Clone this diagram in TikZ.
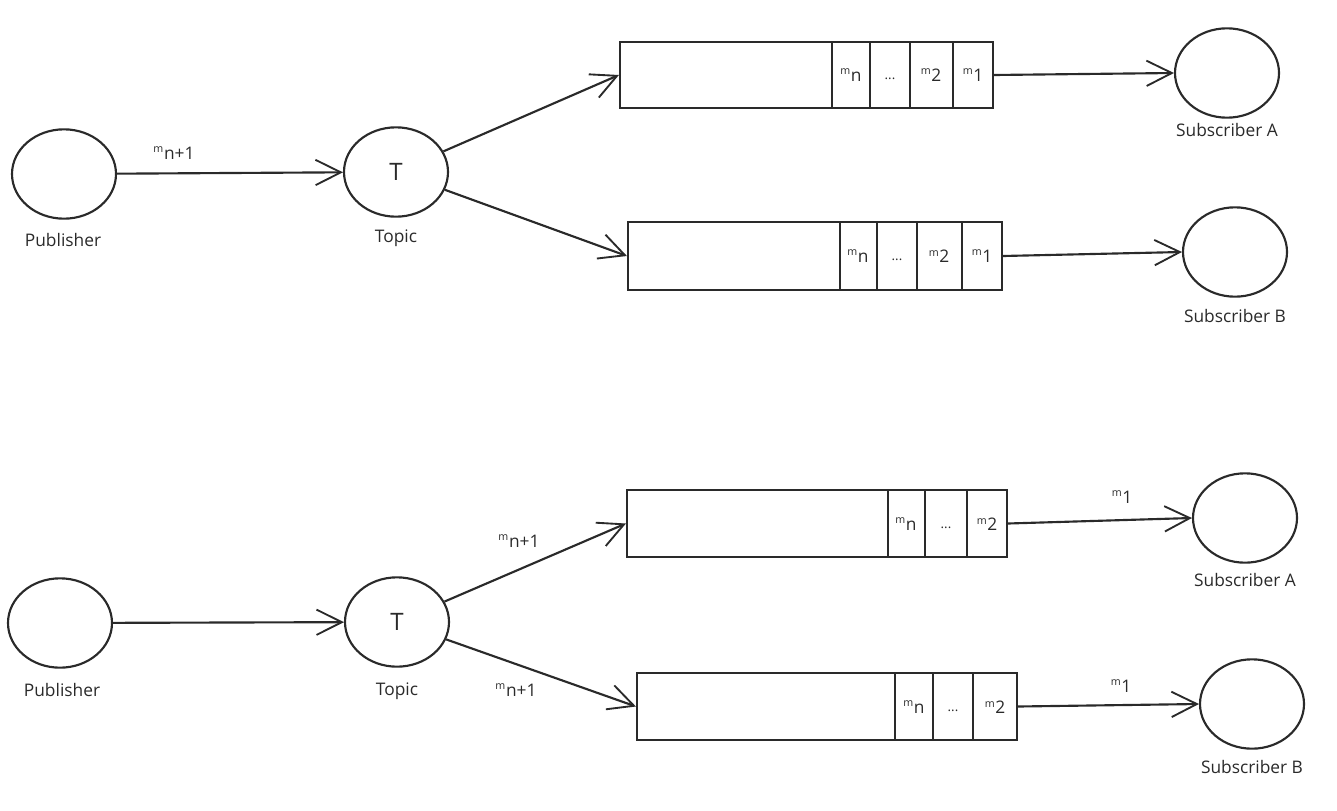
\documentclass[tikz,border=0pt]{standalone}
\usepackage{fontspec}
\setmainfont{Open Sans}
\usetikzlibrary{arrows.meta,shapes.geometric,fit}
\definecolor{ink}{HTML}{2A2A2A}
\newcommand{\mlab}[1]{{\fontsize{8}{8}\selectfont\raisebox{1.1ex}{m}}\hspace{0.5pt}{\fontsize{13}{13}\selectfont #1}}
\tikzset{
  ink/.style={draw=ink, line width=1.6pt},
  actor/.style={ink, ellipse, inner sep=0pt, minimum width=78pt, minimum height=67pt},
  queuebox/.style={ink, rectangle, inner sep=0pt},
  cellline/.style={ink},
  lbl/.style={text=ink, font=\fontsize{13}{14}\selectfont, inner sep=1pt},
  cell/.style={text=ink, inner sep=0pt},
  big/.style={text=ink, font=\fontsize{18}{18}\selectfont},
  flow/.style={ink, -{Straight Barb[length=19pt,width=19pt,line width=1.4pt]}}
}
\begin{document}
\begin{tikzpicture}[x=0.75pt,y=-0.75pt]
\useasboundingbox (0,0) rectangle (1337,810);

% ---------- top scenario ----------
\node[actor] (pub1) at (64,174) {};
\node[lbl] (pub1l) at (63,240) {Publisher};
\node[actor] (top1) at (396,172) {};
\node[big] (top1t) at (396,172) {T};
\node[lbl] (top1l) at (396,238) {Topic};

\coordinate (qA1a) at (620,42); \coordinate (qA1b) at (993,108);
\node[queuebox, fit=(qA1a)(qA1b)] (qA1) {};
\draw[cellline] (832,42) -- (832,108) (870,42) -- (870,108) (910,42) -- (910,108) (953,42) -- (953,108);
\node[cell] (qA1c1) at (851,75) {\mlab{n}};
\node[cell] (qA1c2) at (890,79) {\fontsize{10}{10}\selectfont ...};
\node[cell] (qA1c3) at (931,75) {\mlab{2}};
\node[cell] (qA1c4) at (973,75) {\mlab{1}};

\coordinate (qB1a) at (628,222); \coordinate (qB1b) at (1002,290);
\node[queuebox, fit=(qB1a)(qB1b)] (qB1) {};
\draw[cellline] (840,222) -- (840,290) (877,222) -- (877,290) (917,222) -- (917,290) (962,222) -- (962,290);
\node[cell] (qB1c1) at (858,256) {\mlab{n}};
\node[cell] (qB1c2) at (897,260) {\fontsize{10}{10}\selectfont ...};
\node[cell] (qB1c3) at (939,256) {\mlab{2}};
\node[cell] (qB1c4) at (982,256) {\mlab{1}};

\node[actor] (subA1) at (1227,73) {};
\node[lbl] (subA1l) at (1227,130) {Subscriber A};
\node[actor] (subB1) at (1235,252) {};
\node[lbl] (subB1l) at (1235,316) {Subscriber B};

\draw[flow] (pub1) -- (top1);
\node[cell] (m1) at (174,153) {\mlab{n+1}};
\draw[flow] (top1) -- (qA1.west);
\draw[flow] (top1) -- (qB1.west);
\draw[flow] (qA1.east) -- (subA1.west);
\draw[flow] (qB1.east) -- (subB1.west);

% ---------- bottom scenario ----------
\node[actor] (pub2) at (60,623) {};
\node[lbl] (pub2l) at (62,690) {Publisher};
\node[actor] (top2) at (397,622) {};
\node[big] (top2t) at (397,622) {T};
\node[lbl] (top2l) at (397,691) {Topic};

\coordinate (qA2a) at (627,490); \coordinate (qA2b) at (1007,557);
\node[queuebox, fit=(qA2a)(qA2b)] (qA2) {};
\draw[cellline] (888,490) -- (888,557) (925,490) -- (925,557) (967,490) -- (967,557);
\node[cell] (qA2c1) at (906,524) {\mlab{n}};
\node[cell] (qA2c2) at (946,528) {\fontsize{10}{10}\selectfont ...};
\node[cell] (qA2c3) at (987,524) {\mlab{2}};

\coordinate (qB2a) at (637,673); \coordinate (qB2b) at (1017,740);
\node[queuebox, fit=(qB2a)(qB2b)] (qB2) {};
\draw[cellline] (895,673) -- (895,740) (933,673) -- (933,740) (973,673) -- (973,740);
\node[cell] (qB2c1) at (914,707) {\mlab{n}};
\node[cell] (qB2c2) at (953,711) {\fontsize{10}{10}\selectfont ...};
\node[cell] (qB2c3) at (995,707) {\mlab{2}};

\node[actor] (subA2) at (1245,518) {};
\node[lbl] (subA2l) at (1245,580) {Subscriber A};
\node[actor] (subB2) at (1252,704) {};
\node[lbl] (subB2l) at (1252,767) {Subscriber B};

\draw[flow] (pub2) -- (top2);
\draw[flow] (top2) -- (qA2.west);
\draw[flow] (top2) -- (qB2.west);
\draw[flow] (qA2.east) -- (subA2.west);
\draw[flow] (qB2.east) -- (subB2.west);

\node[cell] (m2) at (519,541) {\mlab{n+1}};
\node[cell] (m3) at (516,690) {\mlab{n+1}};
\node[cell] (m4) at (1122,497) {\mlab{1}};
\node[cell] (m5) at (1121,686) {\mlab{1}};
\end{tikzpicture}
\end{document}
